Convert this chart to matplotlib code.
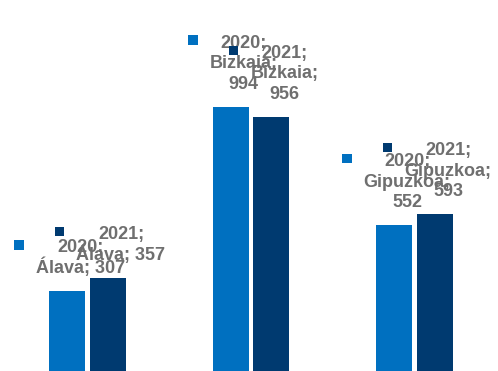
import textwrap
import numpy as np
import matplotlib
matplotlib.use("Agg")
import matplotlib.pyplot as plt
from matplotlib.patches import Rectangle
from matplotlib.transforms import IdentityTransform

categories = ["Álava", "Bizkaia", "Gipuzkoa"]
series_names = ["2020", "2021"]
values_2020 = [307, 994, 552]
values_2021 = [357, 956, 593]
series_values = [values_2020, values_2021]
colors = ["#0070C0", "#003A70"]
label_color = "#6F6F6F"

fig = plt.figure(figsize=(4.98, 3.71), dpi=100)
ax = fig.add_axes([0.0116, 0, 0.985, 1])

x = np.arange(len(categories))
width = 0.22
offsets = [-0.125, 0.125]

for s_idx, (name, vals, col) in enumerate(zip(series_names, series_values, colors)):
    ax.bar(x + offsets[s_idx], vals, width=width, color=col, zorder=2)

ax.set_xlim(-0.5, 2.5)
ax.set_ylim(8.2, 1393.6)
ax.axis("off")

line_pitch = 20.7
base_gap = 18
labels = []
for s_idx, (name, vals, col) in enumerate(zip(series_names, series_values, colors)):
    for i, (cat, v) in enumerate(zip(categories, vals)):
        lines = textwrap.fill(f"{name}; {cat}; {v}", width=10).split("\n")
        n = len(lines)
        xb = x[i] + offsets[s_idx]
        arts = []
        for j, line in enumerate(lines):
            t = ax.annotate(line, xy=(xb, v), xycoords="data",
                            xytext=(13, base_gap + (n - 1 - j) * line_pitch),
                            textcoords="offset pixels",
                            ha="center", va="baseline",
                            color=label_color, fontsize=13, fontweight="bold",
                            family="Liberation Sans", zorder=3 + s_idx)
            arts.append(t)
        labels.append((arts, col, s_idx, xb, v, base_gap + (n - 1) * line_pitch))

fig.canvas.draw()
renderer = fig.canvas.get_renderer()
for arts, col, s_idx, xb, v, top_off in labels:
    x0 = min(t.get_window_extent(renderer).x0 for t in arts)
    _, by = ax.transData.transform((xb, v))
    baseline = by + top_off
    size = 9.5
    cy = baseline + 7.5
    sq = Rectangle((x0 - 12 - size, cy - size / 2), size, size,
                   facecolor=col, edgecolor="none", transform=IdentityTransform(),
                   zorder=3 + s_idx)
    fig.add_artist(sq)

fig.savefig("out.png", dpi=100)
